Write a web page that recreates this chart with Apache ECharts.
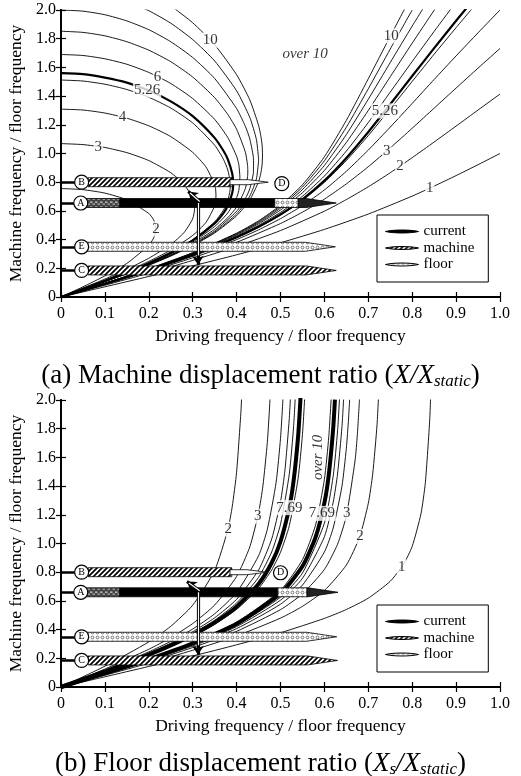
<!DOCTYPE html>
<html><head><meta charset="utf-8">
<script src="https://cdn.jsdelivr.net/npm/echarts/dist/echarts.min.js"></script>
<style>html,body{margin:0;padding:0;background:#fff}#c{width:521px;height:776px}</style>
</head><body><div id="c"></div><script>
// ---------- tick labels ----------
const xTickLabels = ['0','0.1','0.2','0.3','0.4','0.5','0.6','0.7','0.8','0.9','1.0'];
const yTickLabels = ['0','0.2','0.4','0.6','0.8','1.0','1.2','1.4','1.6','1.8','2.0'];

// ---------- (a) machine displacement ratio contours: [driving ratio, machine ratio] ----------
const mL2 = [[0,0.756],[0.05,0.748],[0.1,0.724],[0.15,0.677],[0.2,0.582],[0.21,0.543],[0.215,0.505],[0.2165,0.474],[0.215,0.445],[0.21,0.405],[0.2,0.360],[0.15,0.234],[0.1,0.147],[0.05,0.071],[0,0]];
const mL3 = [[0,1.069],[0.05,1.062],[0.1,1.042],[0.15,1.006],[0.2,0.951],[0.25,0.866],[0.28,0.786],[0.3,0.688],[0.3043,0.616],[0.3,0.545],[0.28,0.448],[0.25,0.366],[0.2,0.270],[0.15,0.193],[0.1,0.125],[0.05,0.062],[0,0]];
const mL4 = [[0,1.309],[0.05,1.303],[0.1,1.282],[0.15,1.246],[0.2,1.193],[0.25,1.118],[0.3,1.008],[0.33,0.907],[0.35,0.784],[0.352,0.758],[0.353,0.707],[0.352,0.658],[0.35,0.632],[0.33,0.519],[0.3,0.429],[0.25,0.327],[0.2,0.248],[0.15,0.180],[0.1,0.117],[0,0]];
const mL5 = [[0,1.512],[0.05,1.505],[0.1,1.483],[0.15,1.446],[0.2,1.392],[0.25,1.317],[0.3,1.213],[0.35,1.058],[0.37,0.960],[0.38,0.885],[0.385,0.810],[0.3855,0.775],[0.385,0.742],[0.38,0.672],[0.37,0.605],[0.35,0.524],[0.3,0.399],[0.25,0.311],[0.2,0.238],[0.15,0.173],[0.1,0.113],[0,0]];
const mL526 = [[0,1.560],[0.05,1.553],[0.1,1.529],[0.15,1.494],[0.2,1.439],[0.25,1.363],[0.3,1.260],[0.35,1.109],[0.37,1.019],[0.38,0.959],[0.39,0.861],[0.3922,0.790],[0.39,0.724],[0.38,0.636],[0.37,0.585],[0.35,0.513],[0.3,0.394],[0.25,0.308],[0.2,0.236],[0.15,0.172],[0.1,0.113],[0,0]];
const mL6 = [[0,1.690],[0.05,1.683],[0.1,1.660],[0.15,1.622],[0.2,1.565],[0.25,1.488],[0.3,1.383],[0.35,1.238],[0.38,1.111],[0.4,0.980],[0.405,0.924],[0.4075,0.833],[0.405,0.742],[0.4,0.693],[0.38,0.586],[0.35,0.491],[0.3,0.383],[0.25,0.301],[0.2,0.232],[0.15,0.169],[0.1,0.111],[0,0]];
const mL7 = [[0,1.852],[0.05,1.844],[0.1,1.820],[0.15,1.779],[0.2,1.720],[0.25,1.640],[0.3,1.533],[0.35,1.389],[0.38,1.272],[0.4,1.169],[0.42,1.009],[0.425,0.917],[0.4255,0.878],[0.425,0.839],[0.42,0.756],[0.4,0.627],[0.38,0.553],[0.35,0.472],[0.3,0.373],[0.25,0.295],[0.2,0.228],[0.15,0.167],[0.1,0.109],[0,0]];
const mL8 = [[0,2.0],[0.05,1.992],[0.1,1.967],[0.15,1.924],[0.2,1.863],[0.25,1.779],[0.3,1.669],[0.35,1.523],[0.4,1.313],[0.42,1.189],[0.43,1.102],[0.438,0.979],[0.4385,0.920],[0.438,0.860],[0.43,0.754],[0.42,0.686],[0.4,0.597],[0.35,0.460],[0.3,0.367],[0.25,0.291],[0.2,0.225],[0.15,0.165],[0.1,0.108],[0,0]];
const mL9 = [[0.15,2.059],[0.2,1.995],[0.25,1.908],[0.3,1.794],[0.35,1.645],[0.4,1.437],[0.43,1.252],[0.445,1.099],[0.45,0.967],[0.4502,0.955],[0.45,0.943],[0.445,0.822],[0.43,0.703],[0.4,0.579],[0.35,0.452],[0.3,0.362],[0.25,0.288],[0.2,0.223],[0.15,0.163],[0.1,0.107],[0,0]];
const mL10 = [[0.22,2.086],[0.25,2.029],[0.3,1.911],[0.35,1.758],[0.4,1.549],[0.43,1.374],[0.45,1.197],[0.455,1.126],[0.458,1.060],[0.459,0.990],[0.458,0.919],[0.455,0.860],[0.45,0.803],[0.43,0.676],[0.4,0.566],[0.35,0.446],[0.3,0.358],[0.25,0.285],[0.2,0.221],[0.15,0.162],[0.1,0.107],[0,0]];
const mR1 = [[0,0],[0.1,0.071],[0.2,0.143],[0.3,0.217],[0.4,0.294],[0.5,0.378],[0.6,0.471],[0.7,0.578],[0.8,0.703],[0.85,0.773],[0.9,0.846],[0.95,0.922],[1.0,1.0]];
const mR2 = [[0,0],[0.1,0.082],[0.2,0.166],[0.3,0.255],[0.4,0.352],[0.5,0.463],[0.6,0.598],[0.65,0.679],[0.7,0.768],[0.75,0.866],[0.8,0.971],[0.85,1.080],[0.9,1.191],[0.95,1.303],[1.0,1.414]];
const mR3 = [[0,0],[0.1,0.087],[0.2,0.177],[0.3,0.273],[0.4,0.381],[0.5,0.512],[0.55,0.591],[0.6,0.682],[0.65,0.788],[0.7,0.908],[0.75,1.039],[0.8,1.176],[0.85,1.316],[0.9,1.456],[0.95,1.595],[1.0,1.732]];
const mR4 = [[0,0],[0.1,0.090],[0.2,0.183],[0.3,0.284],[0.4,0.400],[0.45,0.468],[0.5,0.546],[0.55,0.637],[0.6,0.746],[0.65,0.876],[0.7,1.024],[0.75,1.184],[0.8,1.349],[0.85,1.516],[0.9,1.680],[0.95,1.841],[1.0,2.0]];
const mR5 = [[0,0],[0.1,0.092],[0.2,0.187],[0.3,0.291],[0.4,0.413],[0.45,0.486],[0.5,0.570],[0.55,0.673],[0.6,0.799],[0.65,0.951],[0.7,1.125],[0.75,1.312],[0.8,1.502],[0.85,1.692],[0.9,1.877],[0.95,2.059]];
const mR526 = [[0,0],[0.1,0.092],[0.2,0.188],[0.3,0.293],[0.4,0.416],[0.45,0.489],[0.5,0.576],[0.55,0.681],[0.6,0.811],[0.65,0.969],[0.7,1.150],[0.75,1.343],[0.8,1.540],[0.85,1.734],[0.9,1.925],[0.95,2.111]];
const mR6 = [[0,0],[0.1,0.093],[0.2,0.190],[0.3,0.297],[0.4,0.423],[0.45,0.499],[0.5,0.590],[0.55,0.702],[0.6,0.843],[0.65,1.017],[0.7,1.216],[0.75,1.428],[0.8,1.641],[0.85,1.851],[0.9,2.056]];
const mR7 = [[0,0],[0.1,0.094],[0.2,0.193],[0.3,0.301],[0.4,0.430],[0.45,0.510],[0.5,0.606],[0.55,0.727],[0.6,0.882],[0.65,1.077],[0.7,1.300],[0.75,1.535],[0.8,1.769],[0.85,1.998],[0.86,2.042]];
const mR8 = [[0,0],[0.1,0.095],[0.2,0.194],[0.3,0.304],[0.4,0.436],[0.45,0.518],[0.5,0.619],[0.55,0.748],[0.6,0.917],[0.65,1.132],[0.7,1.378],[0.75,1.634],[0.8,1.888],[0.85,2.134]];
const mR9 = [[0,0],[0.1,0.096],[0.2,0.196],[0.3,0.307],[0.4,0.441],[0.45,0.525],[0.5,0.630],[0.55,0.766],[0.6,0.949],[0.65,1.183],[0.7,1.451],[0.75,1.728],[0.8,2.0]];
const mR10 = [[0,0],[0.1,0.096],[0.2,0.197],[0.3,0.309],[0.4,0.445],[0.45,0.531],[0.5,0.639],[0.55,0.782],[0.6,0.977],[0.65,1.231],[0.7,1.521],[0.75,1.817],[0.78,1.991],[0.8,2.106]];

// ---------- (b) floor displacement ratio contours ----------
const fL2 = [[0,0],[0.05,0.071],[0.1,0.145],[0.2,0.314],[0.25,0.423],[0.3,0.570],[0.35,0.812],[0.38,1.096],[0.39,1.256],[0.4,1.497],[0.41,1.925],[0.412,2.060]];
const fL3 = [[0,0],[0.1,0.125],[0.2,0.263],[0.25,0.344],[0.3,0.442],[0.35,0.571],[0.4,0.770],[0.43,0.976],[0.45,1.213],[0.46,1.403],[0.47,1.705],[0.475,1.945],[0.477,2.071]];
const fL4 = [[0,0],[0.1,0.117],[0.2,0.245],[0.25,0.318],[0.3,0.404],[0.35,0.510],[0.4,0.658],[0.45,0.914],[0.47,1.099],[0.49,1.426],[0.5,1.732],[0.505,1.976],[0.507,2.105]];
const fL5 = [[0,0],[0.1,0.113],[0.2,0.236],[0.25,0.305],[0.3,0.385],[0.35,0.482],[0.4,0.611],[0.45,0.815],[0.48,1.032],[0.5,1.291],[0.51,1.507],[0.52,1.870],[0.524,2.106]];
const fL6 = [[0,0],[0.1,0.111],[0.2,0.230],[0.25,0.298],[0.3,0.374],[0.35,0.465],[0.4,0.585],[0.45,0.764],[0.48,0.942],[0.5,1.134],[0.52,1.483],[0.53,1.822],[0.535,2.103]];
const fL769 = [[0,0],[0.1,0.108],[0.2,0.225],[0.25,0.290],[0.3,0.363],[0.35,0.449],[0.4,0.559],[0.45,0.718],[0.48,0.866],[0.5,1.014],[0.52,1.250],[0.53,1.440],[0.54,1.742],[0.545,1.982],[0.547,2.109]];
const fL10 = [[0,0],[0.1,0.107],[0.2,0.221],[0.25,0.284],[0.3,0.354],[0.35,0.437],[0.4,0.541],[0.45,0.686],[0.48,0.816],[0.5,0.939],[0.52,1.123],[0.54,1.451],[0.55,1.760],[0.555,2.007],[0.556,2.069]];
const fR1 = [[0,0],[0.1,0.071],[0.2,0.143],[0.3,0.216],[0.4,0.294],[0.5,0.378],[0.6,0.478],[0.65,0.540],[0.7,0.619],[0.75,0.737],[0.78,0.854],[0.8,0.980],[0.82,1.208],[0.83,1.425],[0.84,1.867],[0.843,2.121]];
const fR2 = [[0,0],[0.1,0.082],[0.2,0.166],[0.3,0.256],[0.4,0.356],[0.5,0.480],[0.55,0.562],[0.6,0.672],[0.65,0.850],[0.68,1.043],[0.7,1.280],[0.71,1.483],[0.72,1.832],[0.725,2.138]];
const fR3 = [[0,0],[0.1,0.087],[0.2,0.177],[0.3,0.275],[0.4,0.388],[0.5,0.539],[0.55,0.649],[0.6,0.819],[0.63,0.995],[0.65,1.193],[0.67,1.582],[0.675,1.757],[0.68,2.007]];
const fR4 = [[0,0],[0.1,0.090],[0.2,0.184],[0.3,0.286],[0.4,0.407],[0.5,0.577],[0.55,0.710],[0.6,0.941],[0.62,1.108],[0.64,1.399],[0.65,1.664],[0.655,1.868],[0.6575,2.003]];
const fR5 = [[0,0],[0.1,0.092],[0.2,0.188],[0.3,0.293],[0.4,0.421],[0.5,0.605],[0.55,0.757],[0.6,1.047],[0.62,1.287],[0.63,1.485],[0.64,1.813],[0.644,2.020]];
const fR6 = [[0,0],[0.1,0.093],[0.2,0.191],[0.3,0.299],[0.4,0.430],[0.5,0.626],[0.55,0.794],[0.6,1.142],[0.62,1.470],[0.63,1.784],[0.635,2.040]];
const fR769 = [[0,0],[0.1,0.095],[0.2,0.194],[0.3,0.305],[0.4,0.441],[0.5,0.651],[0.55,0.841],[0.58,1.044],[0.6,1.283],[0.61,1.479],[0.62,1.801],[0.624,2.003]];
const fR10 = [[0,0],[0.1,0.096],[0.2,0.197],[0.3,0.310],[0.4,0.451],[0.5,0.674],[0.55,0.887],[0.58,1.130],[0.6,1.447],[0.61,1.745],[0.616,2.042]];

// ---------- contour labels: [text, x, y] ----------
const topLabels = [['10',0.34,1.79],['6',0.22,1.534],['5.26',0.196,1.441],['4',0.14,1.253],['3',0.085,1.048],['2',0.2165,0.474],
  ['10',0.752,1.82],['5.26',0.738,1.297],['3',0.742,1.017],['2',0.772,0.912],['1',0.84,0.759]];
const botLabels = [['2',0.381,1.10],['3',0.448,1.19],['7.69',0.52,1.25],['7.69',0.594,1.21],['3',0.651,1.21],['2',0.681,1.05],['1',0.776,0.838]];
const topOver = [0.556,1.69];
const botOver = [0.585,1.60];

// ---------- frequency bands: [x start, x end, machine ratio] ----------
const tMachine = [[0.062,0.39,0.8]];
const tMachineTip = [[0.062,0.627,0.185]];
const tDash = [[0.055,0.134,0.655]];
const tCurrent = [[0.134,0.487,0.655]];
const tCurrentTip = [[0.54,0.627,0.655]];
const tFloor = [[0.487,0.54,0.655]];
const tFloorTip = [[0.058,0.625,0.35]];
const tFloorThinTip = [[0.385,0.472,0.8]];
const bMachine = [[0.062,0.389,0.8]];
const bMachineTip = [[0.062,0.63,0.185]];
const bDash = [[0.055,0.134,0.66]];
const bCurrent = [[0.134,0.494,0.66]];
const bCurrentTip = [[0.56,0.631,0.66]];
const bFloor = [[0.494,0.56,0.66]];
const bFloorTip = [[0.058,0.628,0.35]];
const bFloorThinTip = [[0.385,0.469,0.8]];
// stubs from axis to band: [x0, x1, y]
const tStubs = [[0,0.062,0.8],[0,0.055,0.655],[0,0.058,0.35],[0,0.062,0.185]];
const bStubs = [[0,0.062,0.8],[0,0.055,0.66],[0,0.058,0.35],[0,0.062,0.185]];
// circled letters: [letter, x, y]
const tCircles = [['B',0.047,0.8],['A',0.045,0.655],['E',0.047,0.35],['C',0.047,0.185],['D',0.503,0.79]];
const bCircles = [['B',0.047,0.8],['A',0.045,0.66],['E',0.047,0.35],['C',0.047,0.185],['D',0.50,0.796]];
// arrows: [x0,y0,x1,y1]
const tArrows = [[0.312,0.655,0.312,0.225],[0.316,0.665,0.29,0.735]];
const bArrows = [[0.312,0.66,0.312,0.225],[0.316,0.67,0.287,0.735]];

// ---------- styles ----------
const FONT = '"Liberation Serif","Times New Roman",serif';
function makePattern(kind){
  const c=document.createElement('canvas'); c.width=5; c.height=5; const x=c.getContext('2d');
  if(kind==='hatch'){ x.fillStyle='#fff'; x.fillRect(0,0,5,5); x.strokeStyle='#000'; x.lineWidth=1.7;
    x.beginPath(); x.moveTo(-1,6); x.lineTo(6,-1); x.moveTo(-4,4); x.lineTo(4,-4); x.moveTo(1,9); x.lineTo(9,1); x.stroke(); }
  else if(kind==='stipple'){ x.fillStyle='#fff'; x.fillRect(0,0,5,5); x.strokeStyle='#555'; x.lineWidth=0.8;
    x.beginPath(); x.arc(2.5,2.5,1.4,0,Math.PI*2); x.stroke(); }
  else { x.fillStyle='#444'; x.fillRect(0,0,5,5); x.fillStyle='#ccc'; x.fillRect(0,1.5,2.5,1.3); x.fillRect(2.5,3.6,2.5,1); }
  return {image:c, repeat:'repeat'};
}
const HATCH=makePattern('hatch'), STIP=makePattern('stipple'), DASH=makePattern('dash');

const series=[];
function addCurves(list,g,width){ list.forEach(d=>series.push({type:'line',xAxisIndex:2*g,yAxisIndex:2*g,data:d,showSymbol:false,symbol:'none',smooth:0.2,silent:true,animation:false,clip:true,lineStyle:{color:'#000',width:width},z:2})); }
addCurves([mL2,mL3,mL4,mL5,mL6,mL7,mL8,mL9,mL10,mR1,mR2,mR3,mR4,mR5,mR6,mR7,mR8,mR9,mR10],0,0.9);
addCurves([mL526,mR526],0,2.2);
addCurves([fL2,fL3,fL4,fL5,fL6,fL10,fR1,fR2,fR3,fR4,fR5,fR6,fR10],1,0.9);
addCurves([fL769,fR769],1,4);

function addLabels(list,g){ series.push({type:'scatter',xAxisIndex:2*g,yAxisIndex:2*g,silent:true,symbolSize:1,itemStyle:{color:'rgba(0,0,0,0)'},z:4,
  data:list.map(l=>({name:l[0],value:[l[1],l[2]]})),
  label:{show:true,position:'inside',formatter:'{b}',fontFamily:FONT,fontSize:15,color:'#000',backgroundColor:'#fff',padding:[0,1]}}); }
addLabels(topLabels,0); addLabels(botLabels,1);
function addOver(p,g,rot){ series.push({type:'scatter',xAxisIndex:2*g,yAxisIndex:2*g,silent:true,symbolSize:1,itemStyle:{color:'rgba(0,0,0,0)'},z:4,
  data:[{name:'over 10',value:p}],label:{show:true,position:'inside',formatter:'{b}',rotate:rot,fontFamily:FONT,fontStyle:'italic',fontSize:15,color:'#000'}}); }
addOver(topOver,0,0); addOver(botOver,1,90);

function addStubs(list,g){ series.push({type:'lines',coordinateSystem:'cartesian2d',xAxisIndex:2*g,yAxisIndex:2*g,silent:true,z:5,
  lineStyle:{color:'#000',width:2.5,opacity:1},data:list.map(s=>({coords:[[s[0],s[2]],[s[1],s[2]]]}))}); }
addStubs(tStubs,0); addStubs(bStubs,1);

function addBand(name,data,g,fill,tip,hh){ series.push({type:'custom',name:name,xAxisIndex:2*g,yAxisIndex:2*g,data:data,silent:true,z:6,
  encode:{x:[0,1],y:2},itemStyle:{color:fill},
  renderItem:function(params,api){
    const a=api.coord([api.value(0),api.value(2)]), b=api.coord([api.value(1),api.value(2)]);
    let pts;
    if(tip>0){ const xt=b[0]-tip; pts=[[a[0],a[1]-hh],[xt,a[1]-hh],[b[0],a[1]],[xt,a[1]+hh],[a[0],a[1]+hh]]; }
    else pts=[[a[0],a[1]-hh],[b[0],a[1]-hh],[b[0],a[1]+hh],[a[0],a[1]+hh]];
    return {type:'polygon',shape:{points:pts},style:{fill:fill,stroke:'#000',lineWidth:0.8}};
  }}); }
[[0,tMachine,tMachineTip,tDash,tCurrent,tCurrentTip,tFloor,tFloorTip,tFloorThinTip],[1,bMachine,bMachineTip,bDash,bCurrent,bCurrentTip,bFloor,bFloorTip,bFloorThinTip]].forEach(r=>{
  const g=r[0];
  addBand('machine',r[1],g,HATCH,0,4.5);
  addBand('machine',r[2],g,HATCH,30,4.5);
  addBand('machine',r[3],g,DASH,0,4.5);
  addBand('current',r[4],g,'#000',0,4.5);
  addBand('current',r[5],g,'#222',30,4.5);
  addBand('floor',r[6],g,STIP,0,4.5);
  addBand('floor',r[7],g,STIP,30,4.5);
  addBand('floor',r[8],g,'#fff',20,2.5);
});

function addArrows(list,g){
  series.push({type:'lines',coordinateSystem:'cartesian2d',xAxisIndex:2*g,yAxisIndex:2*g,silent:true,z:7,symbol:['none','arrow'],symbolSize:9,
    lineStyle:{color:'#000',width:3.2,opacity:1},data:list.map(a=>({coords:[[a[0],a[1]],[a[2],a[3]]]}))});
  series.push({type:'lines',coordinateSystem:'cartesian2d',xAxisIndex:2*g,yAxisIndex:2*g,silent:true,z:7.5,
    lineStyle:{color:'#fff',width:1.2,opacity:1},data:list.map(a=>({coords:[[a[0],a[1]],[a[0]+(a[2]-a[0])*0.85,a[1]+(a[3]-a[1])*0.85]]}))});
}
addArrows(tArrows,0); addArrows(bArrows,1);

function addCircles(list,g){ series.push({type:'scatter',xAxisIndex:2*g,yAxisIndex:2*g,silent:true,z:9,symbol:'circle',symbolSize:14,
  itemStyle:{color:'#fff',borderColor:'#000',borderWidth:1.2,opacity:1},data:list.map(c=>({name:c[0],value:[c[1],c[2]]})),
  label:{show:true,position:'inside',formatter:'{b}',fontFamily:FONT,fontSize:10,color:'#000'}}); }
addCircles(tCircles,0); addCircles(bCircles,1);

// ---------- axes ----------
const axLine={lineStyle:{color:'#000',width:1.8}};
const axTick={inside:true,length:5,lineStyle:{color:'#000',width:1.2}};
const lblStyle={fontFamily:FONT,fontSize:16,color:'#000'};
const xAxes=[], yAxes=[];
[0,1].forEach(g=>{
  xAxes.push({gridIndex:g,type:'value',min:0,max:1,interval:0.1,position:'bottom',axisLine:axLine,axisTick:axTick,splitLine:{show:false},
    axisLabel:Object.assign({margin:9,formatter:v=>xTickLabels[Math.round(v*10)]},lblStyle),
    name:'Driving frequency / floor frequency',nameLocation:'middle',nameGap:30,nameTextStyle:{fontFamily:FONT,fontSize:17.5,color:'#000'}});
  xAxes.push({gridIndex:g,type:'value',min:0,max:1,interval:0.1,position:'top',axisLine:axLine,axisTick:axTick,splitLine:{show:false},axisLabel:{show:false}});
  yAxes.push({gridIndex:g,type:'value',min:0,max:2,interval:0.2,position:'left',axisLine:axLine,axisTick:axTick,splitLine:{show:false},
    axisLabel:Object.assign({margin:5,formatter:v=>yTickLabels[Math.round(v*5)]},lblStyle),
    name:'Machine frequency / floor frequency',nameLocation:'middle',nameGap:26,nameTextStyle:{fontFamily:FONT,fontSize:17.5,color:'#000'}});
  yAxes.push({gridIndex:g,type:'value',min:0,max:2,interval:0.2,position:'right',axisLine:axLine,axisTick:axTick,splitLine:{show:false},axisLabel:{show:false}});
});

const LENS='path://M0,5 C25,-1 75,-1 100,5 C75,11 25,11 0,5 Z';
function legendAt(top){ return {top:top,left:377,orient:'vertical',itemWidth:33,itemHeight:8,itemGap:1.5,selectedMode:false,
  padding:[9,14,10,8],borderColor:'#000',borderWidth:1,backgroundColor:'#fff',textStyle:{fontFamily:FONT,fontSize:15,color:'#000'},
  data:[{name:'current',icon:LENS,itemStyle:{color:'#000',borderColor:'#000',borderWidth:1}},
        {name:'machine',icon:LENS,itemStyle:{color:HATCH,borderColor:'#000',borderWidth:1}},
        {name:'floor',icon:LENS,itemStyle:{color:STIP,borderColor:'#000',borderWidth:1}}]}; }

const capRich={i:{fontFamily:FONT,fontSize:27,fontStyle:'italic',fill:'#000'},s:{fontFamily:FONT,fontSize:17,fontStyle:'italic',fill:'#000',padding:[12,0,0,0]}};
const option={
  animation:false,
  backgroundColor:'#fff',
  grid:[{left:61,top:10,width:439,height:287,containLabel:false,outerBoundsMode:'none'},{left:61,top:400,width:439,height:287,containLabel:false,outerBoundsMode:'none'}],
  xAxis:xAxes, yAxis:yAxes,
  legend:[legendAt(215),legendAt(605)],
  graphic:[
    {type:'text',left:'center',top:362,style:{text:'(a) Machine displacement ratio ({i|X/X}{s|static})',fontFamily:FONT,fontSize:27,fill:'#000',rich:capRich}},
    {type:'text',left:'center',top:750,style:{text:'(b) Floor displacement ratio ({i|X}{s|s}{i|/X}{s|static})',fontFamily:FONT,fontSize:27,fill:'#000',rich:capRich}}
  ],
  series:series
};
const chart=echarts.init(document.getElementById('c'),null,{renderer:'canvas'});
chart.setOption(option);
</script></body></html>
